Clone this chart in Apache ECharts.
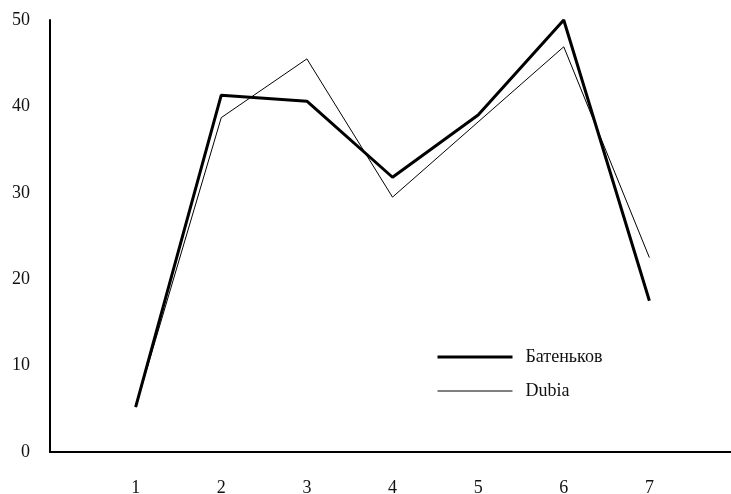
<!DOCTYPE html>
<html>
<head>
<meta charset="utf-8">
<script src="https://cdn.jsdelivr.net/npm/echarts@6/dist/echarts.min.js"></script>
<style>html,body{margin:0;padding:0;background:#fff;}#chart{width:731px;height:494px;}</style>
</head>
<body>
<div id="chart"></div>
<script>
var categories = [1, 2, 3, 4, 5, 6, 7];
var batenkov = [5.2, 41.3, 40.6, 31.8, 39.0, 50.0, 17.5];
var dubia = [5.2, 38.7, 45.5, 29.5, 38.2, 46.9, 22.5];
var yTicks = [0, 10, 20, 30, 40, 50];
var seriesNames = ['Батеньков', 'Dubia'];

function pairs(vals) { return categories.map(function (c, i) { return [c, vals[i]]; }); }
var font = "'Liberation Serif', 'DejaVu Serif', serif";
var chart = echarts.init(document.getElementById('chart'), null, {renderer: 'canvas'});
chart.setOption({
  animation: false,
  backgroundColor: '#fff',
  grid: {left: 50, top: 20, width: 685, height: 432, outerBoundsMode: 'none', containLabel: false},
  legend: {
    orient: 'vertical', left: 431, top: 343,
    itemWidth: 75, itemHeight: 16, itemGap: 16,
    textStyle: {fontFamily: font, fontSize: 18, color: '#111', padding: [0, 0, 0, 8]},
    data: [
      {name: seriesNames[0], itemStyle: {opacity: 0}, lineStyle: {width: 3, color: '#000'}},
      {name: seriesNames[1], itemStyle: {opacity: 0}, lineStyle: {width: 1, color: '#000'}}
    ]
  },
  xAxis: {
    type: 'value', min: 0, max: 8, interval: 1,
    axisLine: {show: true, lineStyle: {color: '#000', width: 2}},
    axisTick: {show: false}, splitLine: {show: false},
    axisLabel: {
      margin: 27, fontFamily: font, fontSize: 18, color: '#111',
      formatter: function (v) { return categories.indexOf(v) >= 0 ? String(v) : ''; }
    }
  },
  yAxis: {
    type: 'value', min: yTicks[0], max: yTicks[yTicks.length - 1], interval: 10,
    axisLine: {show: true, lineStyle: {color: '#000', width: 2}},
    axisTick: {show: false}, splitLine: {show: false},
    axisLabel: {margin: 20, fontFamily: font, fontSize: 18, color: '#111'}
  },
  series: [
    {name: seriesNames[0], type: 'line', data: pairs(batenkov), symbol: 'none',
     lineStyle: {color: '#000', width: 3}, itemStyle: {color: '#000'}},
    {name: seriesNames[1], type: 'line', data: pairs(dubia), symbol: 'none',
     lineStyle: {color: '#000', width: 1}, itemStyle: {color: '#000'}}
  ]
});
</script>
</body>
</html>
